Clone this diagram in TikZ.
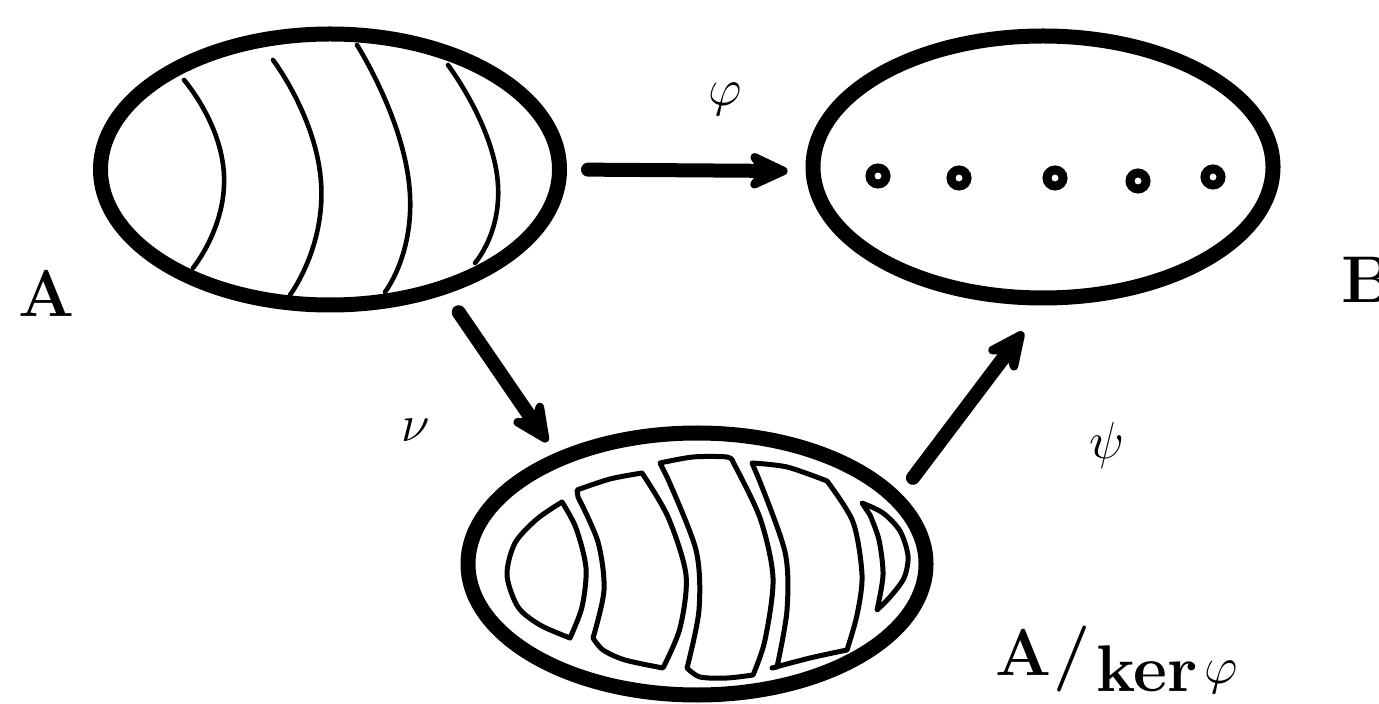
\documentclass[tikz,border=0pt]{standalone}
\usepackage{fix-cm}
\usetikzlibrary{shapes.geometric,arrows.meta}
\begin{document}
\begin{tikzpicture}[x=0.5pt,y=-0.5pt,
  set/.style={draw, ellipse, line width=7.5pt, inner sep=0pt},
  arr/.style={line width=7pt, line cap=round, -{Stealth[length=26pt,width=24pt,inset=9pt,round]}},
  thinarc/.style={line width=2.3pt, line cap=round},
  cell/.style={line width=2.5pt, line join=round, line cap=round},
  dot/.style={circle, draw, line width=4.5pt, minimum size=8pt, inner sep=0pt},
  lbl/.style={font=\fontsize{33}{36}\selectfont\bfseries, inner sep=0pt},
  glbl/.style={font=\fontsize{26}{30}\selectfont, inner sep=0pt}]
\useasboundingbox (0,0) rectangle (1379,704);
% sets
\node[set, minimum width=229.5pt, minimum height=135.5pt] (A) at (330,169.5) {};
\node[set, minimum width=230pt, minimum height=131pt] (B) at (1043,167) {};
\node[set, minimum width=229pt, minimum height=131pt] (C) at (697,564) {};
% arcs in A
\draw[thinarc] plot[smooth, tension=1] coordinates {(184,80) (224,175) (193,268)};
\draw[thinarc] plot[smooth, tension=1] coordinates {(273,60) (321,182) (290,295)};
\draw[thinarc] plot[smooth, tension=1] coordinates {(357,45) (409,183) (385,292)};
\draw[thinarc] plot[smooth, tension=1] coordinates {(448,65) (497,175) (475,263)};
% points in B
\node[dot] (d1) at (878,176) {};
\node[dot] (d2) at (959,178) {};
\node[dot] (d3) at (1055,178) {};
\node[dot] (d4) at (1138,181) {};
\node[dot] (d5) at (1213,177) {};
% cells in C
\draw[cell] plot[smooth] coordinates {(562,502) (576,528) (586,568) (582,607) (570,638)}
  -- plot[smooth] coordinates {(570,638) (540,625) (518,607) (507,575) (515,543) (537,519) (562,502)} -- cycle;
\draw[cell] plot[smooth] coordinates {(577,490) (610,479) (642,473)}
  -- plot[smooth] coordinates {(642,473) (668,517) (686,575) (680,628) (663,668)}
  -- plot[smooth] coordinates {(663,668) (625,660) (603,650) (593,638)}
  -- plot[smooth] coordinates {(593,638) (604,590) (598,542) (578,497)} -- cycle;
\draw[cell] plot[smooth] coordinates {(660,463) (693,457) (727,457) (733,462)}
  -- plot[smooth] coordinates {(733,462) (760,518) (773,578) (765,640) (753,675)}
  -- plot[smooth] coordinates {(753,675) (727,678) (700,677) (687,668)}
  -- plot[smooth] coordinates {(687,668) (699,610) (696,550) (667,477)} -- cycle;
\draw[cell] plot[smooth] coordinates {(752,463) (787,467) (827,481)}
  -- plot[smooth] coordinates {(827,481) (853,522) (862,575) (857,615) (847,650)}
  -- plot[smooth] coordinates {(847,650) (810,658) (772,668)}
  -- plot[smooth] coordinates {(777,667) (787,610) (785,552) (758,477)} -- cycle;
\draw[cell] plot[smooth] coordinates {(862,503) (883,513) (900,531) (908,556) (904,578) (890,597) (877,610)}
  -- plot[smooth] coordinates {(877,610) (883,575) (879,540) (870,515)} -- cycle;
% maps
\draw[arr, shorten <=10.5pt, shorten >=9pt] (A.-0.6) -- (B.181.2);
\draw[arr, shorten <=11pt, shorten >=6.85pt] (A.-47.2) -- (C.142.8);
\draw[arr, shorten <=10pt, shorten >=16.5pt] (C.19.3) -- (B.-90);
% labels
\node[lbl, anchor=base] (la) at (47,317) {A};
\node[lbl, anchor=base west] (lb) at (1341,303) {B};
\node[glbl] (phi) at (725,99) {$\varphi$};
\node[glbl] (nu) at (416,430) {$\nu$};
\node[glbl] (psi) at (1107,446) {$\psi$};
\node[lbl, anchor=base west] (q) at (995,675) {A\kern1pt/\kern3pt\raisebox{-8pt}{ker\kern3pt\raisebox{4pt}{\fontsize{26}{30}\selectfont$\varphi$}}};
\end{tikzpicture}
\end{document}
